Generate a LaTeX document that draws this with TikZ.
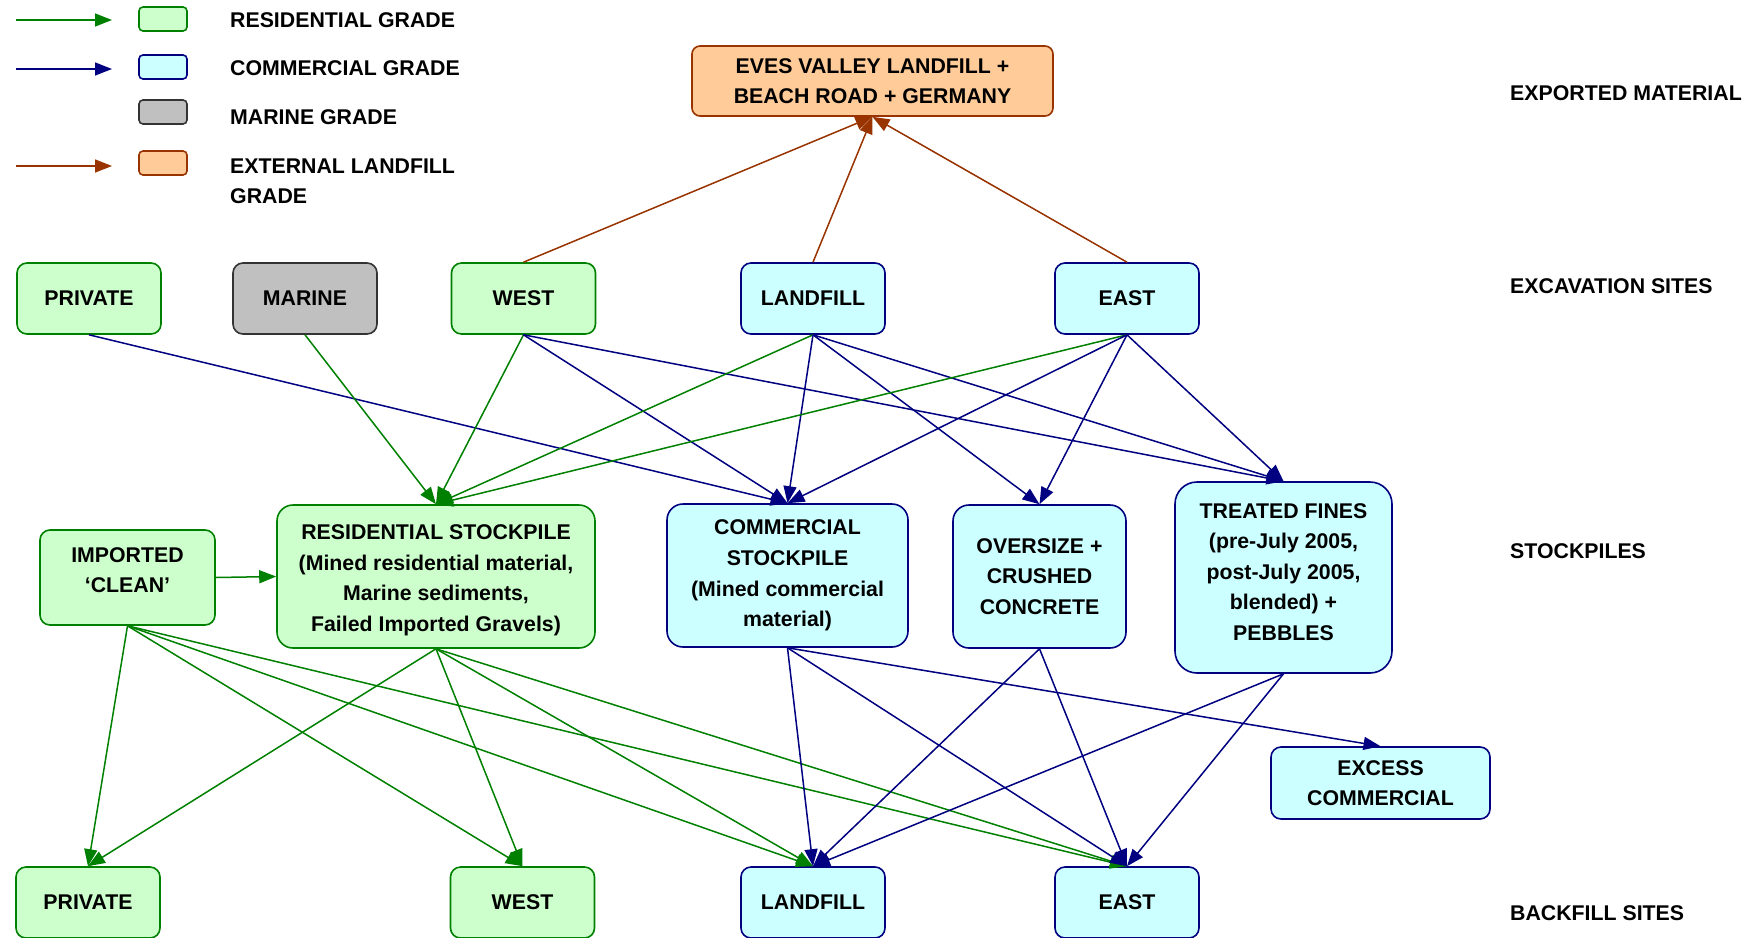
\documentclass[tikz,border=0pt]{standalone}
\usepackage{fontspec}
\setmainfont{Liberation Sans}
\usetikzlibrary{arrows.meta}

\definecolor{resline}{HTML}{008000}
\definecolor{resfill}{HTML}{CCFFCC}
\definecolor{comline}{HTML}{000080}
\definecolor{comfill}{HTML}{CCFFFF}
\definecolor{marline}{HTML}{333333}
\definecolor{marfill}{HTML}{C0C0C0}
\definecolor{extline}{HTML}{993300}
\definecolor{extfill}{HTML}{FFCC99}

\tikzset{
  lbl/.style={font=\fontsize{21.3}{30.5}\selectfont\bfseries, align=left, anchor=west, inner sep=0pt},
  box/.style={draw, line width=1.6pt, rounded corners=10pt, align=center, inner sep=0pt,
              font=\fontsize{21.3}{30.6}\selectfont\bfseries},
  site/.style={box, minimum width=144pt, minimum height=71pt},
  resbox/.style={draw=resline, fill=resfill},
  combox/.style={draw=comline, fill=comfill},
  marbox/.style={draw=marline, fill=marfill},
  extbox/.style={draw=extline, fill=extfill},
  keybox/.style={draw, line width=1.6pt, rounded corners=4pt, minimum width=48pt, minimum height=24pt, inner sep=0pt},
  flow/.style={line width=1.5pt, -{Triangle[length=17pt,width=13pt]}},
  resflow/.style={flow, draw=resline, fill=resline},
  comflow/.style={flow, draw=comline, fill=comline},
  extflow/.style={flow, draw=extline, fill=extline},
}

\begin{document}
\begin{tikzpicture}[x=1pt, y=-1pt]
\useasboundingbox (0,0) rectangle (1756,937);

% key
\coordinate (kra) at (16,20);  \coordinate (krb) at (112,20);
\coordinate (kca) at (16,69);  \coordinate (kcb) at (112,69);
\coordinate (kea) at (16,166); \coordinate (keb) at (112,166);
\draw[resflow] (kra) -- (krb);
\draw[comflow] (kca) -- (kcb);
\draw[extflow] (kea) -- (keb);
\node[keybox, resbox] (kr) at (163,19) {};
\node[keybox, combox] (kc) at (163,67) {};
\node[keybox, marbox] (km) at (163,112) {};
\node[keybox, extbox] (ke) at (163,163) {};
\node[lbl] (tr) at (230,20) {RESIDENTIAL GRADE};
\node[lbl] (tc) at (230,68) {COMMERCIAL GRADE};
\node[lbl] (tm) at (230,117) {MARINE GRADE};
\node[lbl, anchor=north west] (te) at (230,158.5) {EXTERNAL LANDFILL\\GRADE};

% row titles
\node[lbl] (hexp) at (1510,93) {EXPORTED MATERIAL};
\node[lbl] (hexc) at (1510,286) {EXCAVATION SITES};
\node[lbl] (hsto) at (1510,551) {STOCKPILES};
\node[lbl] (hbac) at (1510,913) {BACKFILL SITES};

% exported material
\node[box, extbox, rounded corners=8pt, minimum width=361pt, minimum height=70pt] (eves) at (872.5,81)
  {EVES VALLEY LANDFILL +\\BEACH ROAD + GERMANY};

% excavation sites
\node[site, resbox] (xpriv) at (89,298.5) {PRIVATE};
\node[site, marbox] (xmar)  at (305,298.5) {MARINE};
\node[site, resbox] (xwest) at (523.5,298.5) {WEST};
\node[site, combox] (xland) at (813,298.5) {LANDFILL};
\node[site, combox] (xeast) at (1127,298.5) {EAST};

% stockpiles
\node[box, resbox, minimum width=175pt, minimum height=95pt] (imp) at (127.5,577.5)
  {IMPORTED\\‘CLEAN’\\[-16pt]};
\node[box, resbox, rounded corners=16pt, minimum width=318pt, minimum height=143pt] (sres) at (436,576.5)
  {\\[-8pt]RESIDENTIAL STOCKPILE\\(Mined residential material,\\Marine sediments,\\Failed Imported Gravels)};
\node[box, combox, rounded corners=16pt, minimum width=241pt, minimum height=143pt] (scom) at (787.5,575.5)
  {COMMERCIAL\\STOCKPILE\\(Mined commercial\\material)};
\node[box, combox, rounded corners=16pt, minimum width=173pt, minimum height=143pt] (sover) at (1039.5,576.5)
  {OVERSIZE +\\CRUSHED\\CONCRETE};
\node[box, combox, rounded corners=22pt, minimum width=217pt, minimum height=191pt] (sfine) at (1283.5,577.5)
  {TREATED FINES\\(pre-July 2005,\\post-July 2005,\\blended) +\\PEBBLES\\[-19.5pt]};
\node[box, combox, minimum width=219pt, minimum height=72pt] (excess) at (1380.5,783)
  {EXCESS\\COMMERCIAL};

% backfill sites
\node[site, resbox] (bpriv) at (88,902.5) {PRIVATE};
\node[site, resbox] (bwest) at (522.5,902.5) {WEST};
\node[site, combox] (bland) at (813,902.5) {LANDFILL};
\node[site, combox] (beast) at (1127,902.5) {EAST};

% exported flows
\draw[extflow] (xwest.north) -- (eves.south);
\draw[extflow] (xland.north) -- (eves.south);
\draw[extflow] (xeast.north) -- (eves.south);

% excavation -> stockpiles
\draw[comflow] (xpriv.south) -- (scom.north);
\draw[resflow] (xmar.south)  -- (sres.north);
\draw[resflow] (xwest.south) -- (sres.north);
\draw[comflow] (xwest.south) -- (scom.north);
\draw[comflow] (xwest.south) -- (sfine.north);
\draw[resflow] (xland.south) -- (sres.north);
\draw[comflow] (xland.south) -- (scom.north);
\draw[comflow] (xland.south) -- (sover.north);
\draw[comflow] (xland.south) -- (sfine.north);
\draw[resflow] (xeast.south) -- (sres.north);
\draw[comflow] (xeast.south) -- (scom.north);
\draw[comflow] (xeast.south) -- (sover.north);
\draw[comflow] (xeast.south) -- (sfine.north);

% imported material
\draw[resflow] (imp.east) -- (sres.west);

% stockpiles -> backfill
\draw[resflow] (imp.south) -- (bpriv.north);
\draw[resflow] (imp.south) -- (bwest.north);
\draw[resflow] (imp.south) -- (bland.north);
\draw[resflow] (imp.south) -- (beast.north);
\draw[resflow] (sres.south) -- (bpriv.north);
\draw[resflow] (sres.south) -- (bwest.north);
\draw[resflow] (sres.south) -- (bland.north);
\draw[resflow] (sres.south) -- (beast.north);
\draw[comflow] (scom.south) -- (bland.north);
\draw[comflow] (scom.south) -- (beast.north);
\draw[comflow] (scom.south) -- (excess.north);
\draw[comflow] (sover.south) -- (bland.north);
\draw[comflow] (sover.south) -- (beast.north);
\draw[comflow] (sfine.south) -- (bland.north);
\draw[comflow] (sfine.south) -- (beast.north);
\end{tikzpicture}
\end{document}
